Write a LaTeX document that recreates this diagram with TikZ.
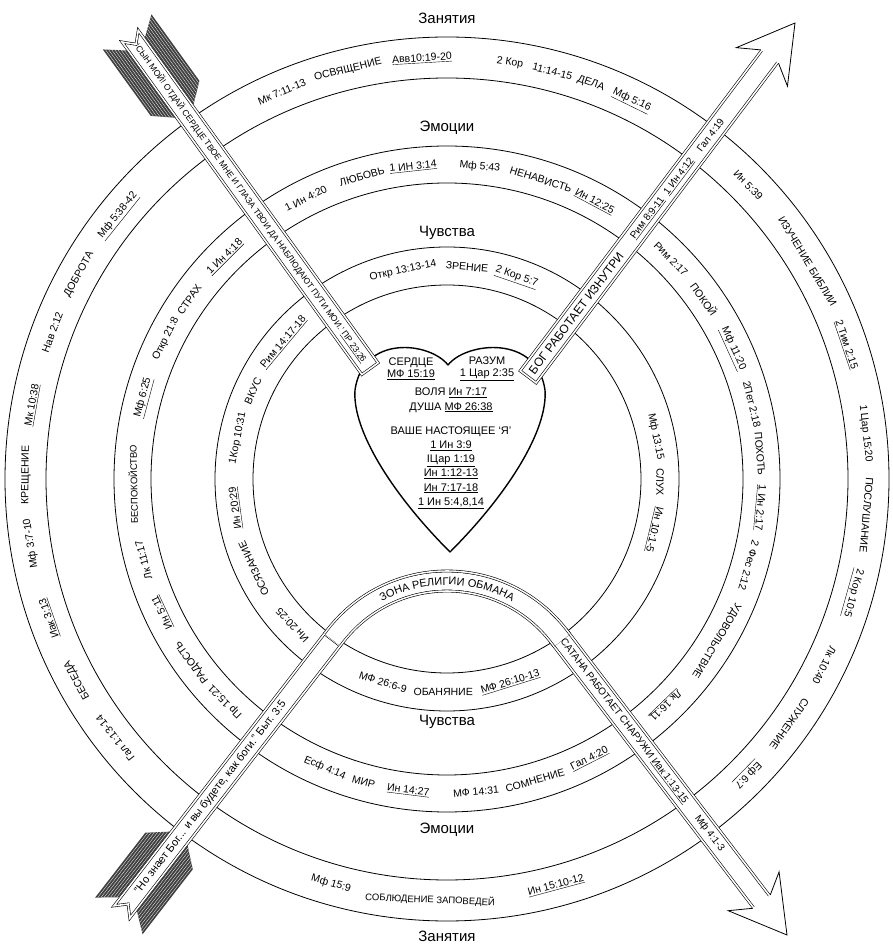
\documentclass[tikz,border=0pt]{standalone}
\usepackage{fontspec}
\setmainfont{Liberation Sans}
\usetikzlibrary{shapes.symbols, decorations.text, calc}

\tikzset{
  ringline/.style={line width=0.8pt},
  outword/.style={rotate=#1-90, inner sep=0pt, font=\fontsize{10.5}{12}\selectfont},
  inword/.style={rotate=#1+90, inner sep=0pt, font=\fontsize{10.5}{12}\selectfont},
  zonelabel/.style={inner sep=1pt, font=\fontsize{15}{18}\selectfont},
  shaft/.style={draw, double, double distance=1.6pt, line width=0.6pt, fill=white,
    minimum height=20pt, inner sep=0pt},
  nock/.style={shaft, shape=signal, signal to=nowhere, signal from=west},
  shaftwords/.style={inner sep=0pt, font=\fontsize{#1}{12}\selectfont},
  heartline/.style={line width=1.4pt, line join=round},
  heartwords/.style={inner sep=0pt, align=center, font=\fontsize{11}{14.2}\selectfont},
  fletching/.pic={
    \foreach \s in {1,-1}{
      \begin{scope}[yscale=\s]
        \clip (5,11) -- (-10,30) -- (72,30) -- (88,11) -- cycle;
        \fill[black!75] (-12,9) rectangle (90,32);
        \foreach \v in {13,15.5,...,30}
          \draw[white, line width=0.3pt] (-12,\v) -- (90,\v);
      \end{scope}
    }
  },
  openhead/.pic={
    \fill[white] (0,0) -- (-55,32) -- (-42,11) -- (-42,-11) -- (-55,-32) -- cycle;
    \draw[line width=0.8pt, line join=miter]
      (-42,11) -- (-55,32) -- (0,0) -- (-55,-32) -- (-42,-11);
  },
}

\begin{document}
\begin{tikzpicture}[x=1pt, y=1pt]
  \useasboundingbox (0,0) rectangle (893,946);
  \coordinate (C) at (447,467);

  % rings
  \foreach \r in {442,401,333,296,232,194}
    \draw[ringline] (C) circle[radius=\r];

  \node[zonelabel] (zanTop) at (447,928) {Занятия};
  \node[zonelabel] (emoTop) at (447,818) {Эмоции};
  \node[zonelabel] (chuTop) at (447,713) {Чувства};
  \node[zonelabel] (chuBot) at (447,224) {Чувства};
  \node[zonelabel] (emoBot) at (447,116) {Эмоции};
  \node[zonelabel] (zanBot) at (447,10) {Занятия};

  \begin{scope}[shift={(C)}]
    \foreach \a/\txt [count=\i] in {113.1/{Мк 7:11-13}, 103.6/{ОСВЯЩЕНИЕ},
        93.4/{\underline{Авв10:19-20}}, 81.4/{2 Кор}, 75.5/{11:14-15}, 70/{ДЕЛА},
        64/{\underline{Мф 5:16}}, 44.3/{Ин 5:39}, 31.1/{ИЗУЧЕНИЕ БИБЛИИ},
        18.6/{\underline{2 Тим 2:15}}, 6.2/{1 Цар 15:20}, -4.9/{ПОСЛУШАНИЕ},
        -15.7/{\underline{2 Кор 10:5}}, -26.3/{Лк 10:40}, -35.6/{СЛУЖЕНИЕ},
        -44.5/{\underline{Еф 6:7}}, 218/{Гал 1:13-14}, 208.5/{БЕСЕДА},
        199.3/{\underline{Иак 3:13}}, 188.8/{Мф 3:7-10}, 179.5/{КРЕЩЕНИЕ},
        169.9/{\underline{Мк 10:38}}, 159.6/{Нав 2:12}, 150.9/{ДОБРОТА},
        141.3/{\underline{Мф 5:38-42}}}
      \node[outword=\a] (zan\i) at (\a:421) {\txt};
    \foreach \a/\txt [count=\i] in {-106/{Мф 15:9}, -92.3/{\fontsize{9.5}{12}\selectfont СОБЛЮДЕНИЕ ЗАПОВЕДЕЙ},
        -75/{\underline{Ин 15:10-12}}}
      \node[inword=\a] (zanB\i) at (\a:421) {\txt};

    \foreach \a/\txt [count=\i] in {116.7/{1 Ин 4:20}, 105.7/{ЛЮБОВЬ},
        96.2/{\underline{1 ИН 3:14}}, 84/{Мф 5:43}, 72.6/{НЕНАВИСТЬ},
        62/{\underline{Ин 12:25}}, 44.5/{Рим 2:17}, 35/{ПОКОЙ},
        24.5/{\underline{Мф 11:20}}, 13.8/{2Пет 2:18}, 4.6/{ПОХОТЬ},
        -5.2/{\underline{1 Ин 2:17}}, -16/{2 Фес 2:12}, -31/{УДОВОЛЬСТВИЕ},
        -46/{\underline{Лк 16:11}}, 225.1/{Пр 15:21}, 215.7/{РАДОСТЬ},
        205.1/{\underline{Ин 5:11}}, 195/{Лк 11:17},
        181/{\fontsize{9.5}{12}\selectfont БЕСПОКОЙСТВО},
        165/{\underline{Мф 6:25}}, 153.5/{Откр 21:8}, 145.1/{СТРАХ},
        135/{\underline{1 Ин 4:18}}}
      \node[outword=\a] (emo\i) at (\a:314) {\txt};
    \foreach \a/\txt [count=\i] in {-112.9/{Есф 4:14}, -105.4/{МИР},
        -97.1/{\underline{Ин 14:27}}, -84.7/{МФ 14:31}, -73.7/{СОМНЕНИЕ},
        -63/{\underline{Гал 4:20}}}
      \node[inword=\a] (emoB\i) at (\a:314) {\txt};

    \foreach \a/\txt [count=\i] in {101.9/{Откр 13:13-14}, 84.6/{ЗРЕНИЕ},
        71/{\underline{2 Кор 5:7}}, 11.5/{Мф 13:15}, -0.8/{СЛУХ},
        -13.7/{\underline{Ин 10:1-5}}, 223.4/{Ин 20:25}, 204.9/{ОСЯЗАНИЕ},
        187.8/{\underline{Ин 20:29}}, 168.9/{1Кор 10:31}, 155.6/{ВКУС},
        140.1/{\underline{Рим 14:17-18}}}
      \node[outword=\a] (chu\i) at (\a:213) {\txt};
    \foreach \a/\txt [count=\i] in {-107.5/{МФ 26:6-9}, -91/{ОБАНЯНИЕ},
        -72.7/{\underline{МФ 26:10-13}}}
      \node[inword=\a] (chuB\i) at (\a:213) {\txt};
  \end{scope}

  % heart
  \draw[heartline, fill=white] (448,581) .. controls (430,604) and (363,612) .. (355,556)
    .. controls (352,516) and (392,452) .. (450,394)
    .. controls (508,452) and (548,516) .. (545,556)
    .. controls (537,612) and (466,604) .. (448,581) -- cycle;
  \node[heartwords] (heartL) at (411,577) {СЕРДЦЕ\\[-2pt]\underline{МФ 15:19}};
  \node[heartwords] (heartR) at (487,577) {РАЗУМ\\[-2pt]\underline{1 Цар 2:35}};
  \node[heartwords, anchor=north] (heartCore) at (451,558) {ВОЛЯ \underline{Ин 7:17}\\
    ДУША \underline{МФ 26:38}\\[10pt]ВАШЕ НАСТОЯЩЕЕ ‘Я’\\\underline{1 Ин 3:9}\\
    \underline{IЦар 1:19}\\\underline{Ин 1:12-13}\\\underline{Ин 7:17-18}\\
    \underline{1 Ин 5:4,8,14}};

  % arrows
  \coordinate (tlTail) at (133,906);
  \coordinate (tlEnd) at (373,573);
  \coordinate (trStart) at (528,569);
  \coordinate (trEnd) at (772.1,892.7);
  \coordinate (trTip) at (795,923);
  \coordinate (blTail) at (125,38);
  \coordinate (blJoin) at (335.4,310.2);
  \coordinate (brJoin) at (559.0,309.6);
  \coordinate (brEnd) at (763.9,41.2);
  \coordinate (brTip) at (787,11);
  \coordinate (Z) at (447,224);

  \node[nock, rotate=-54.2, minimum width=410pt] (shaftTL) at ($(tlTail)!0.5!(tlEnd)$) {};
  \node[shaft, rotate=53, minimum width=405pt] (shaftTR) at ($(trStart)!0.5!(trEnd)$) {};
  \node[nock, rotate=52.3, minimum width=344pt] (shaftBL) at ($(blTail)!0.5!(blJoin)$) {};
  \node[shaft, rotate=-52.65, minimum width=338pt] (shaftBR) at ($(brJoin)!0.5!(brEnd)$) {};

  \foreach \w/\c in {22.8/black, 21.6/white, 18.4/black, 17.2/white}
    \draw[line width=\w pt, draw=\c] ($(blJoin)+(232.3:5)$) -- (blJoin)
      arc[start angle=142.3, end angle=37.4, radius=141] -- ($(brJoin)+(-52.65:5)$);
  \path[decorate, decoration={text along path, text align=center,
      text={|\fontsize{11}{12}\selectfont|ЗОНА РЕЛИГИИ ОБМАНА}}]
    ($(Z)+(130:137)$) arc[start angle=130, end angle=50, radius=137];

  \node[shaftwords=8.6, rotate=-54.2] (tlWords) at ($(tlTail)!0.49!(tlEnd)$)
    {‘СЫН МОЙ! ОТДАЙ СЕРДЦЕ ТВОЕ МНЕ И ГЛАЗА ТВОИ ДА НАБЛЮДАЮТ ПУТИ МОИ.’ \underline{ПР 23:26}};
  \node[shaftwords=12, rotate=53] (trWordsA) at ($(trStart)!80pt!(trEnd)$) {БОГ РАБОТАЕТ ИЗНУТРИ};
  \node[shaftwords=10, rotate=53] (trWordsB) at ($(trStart)!199pt!(trEnd)$) {\underline{Рим 8:9-11}};
  \node[shaftwords=10, rotate=53] (trWordsC) at ($(trStart)!251pt!(trEnd)$) {\underline{1 Ин 4:12}};
  \node[shaftwords=10, rotate=53] (trWordsD) at ($(trStart)!303pt!(trEnd)$) {Гал 4:19};
  \node[shaftwords=11, rotate=52.3] (blWords) at ($(blTail)!140pt!(blJoin)$)
    {"Но знает Бог... и вы будете, как боги." Быт. 3:5};
  \node[shaftwords=10, rotate=-52.65] (brWordsA) at ($(brJoin)!107pt!(brEnd)$)
    {САТАНА РАБОТАЕТ СНАРУЖИ \underline{Иак 1:13-15}};
  \node[shaftwords=10, rotate=-52.65] (brWordsB) at ($(brJoin)!248pt!(brEnd)$) {Мф 4:1-3};

  \pic[rotate=-54.2] at (tlTail) {fletching};
  \pic[rotate=52.3] at (blTail) {fletching};
  \pic[rotate=53] at (trTip) {openhead};
  \pic[rotate=-52.65] at (brTip) {openhead};
\end{tikzpicture}
\end{document}
